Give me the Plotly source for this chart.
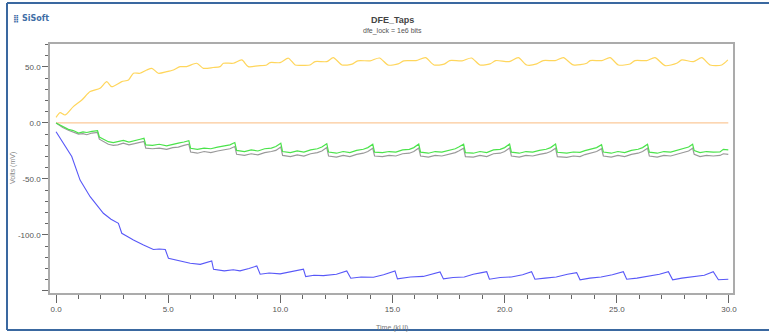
import plotly.graph_objects as go

# ---------------- data ----------------
# Yellow tap
yel_x = [0.0, 0.18, 0.4, 0.77, 1.15, 1.52, 1.96, 2.26, 2.48, 2.93, 3.23, 3.45, 3.74, 4.04, 4.27, 4.56,
         4.93, 5.23, 5.53, 5.82, 6.27, 6.57, 7.0, 7.31, 7.46, 7.9, 8.28, 8.57, 9.0, 9.39, 9.54, 9.99,
         10.36, 10.66, 11.0, 11.32, 11.55, 12.07, 12.36, 12.75, 13.2, 13.45, 14.0, 14.42, 14.8, 15.25,
         15.5, 16.05, 16.47, 16.85, 17.3, 17.55, 18.1, 18.52, 18.9, 19.35, 19.6, 20.2, 20.61, 20.98,
         21.43, 21.72, 22.25, 22.62, 23.06, 23.66, 23.81, 24.33, 24.7, 25.07, 25.59, 25.81, 26.33, 26.7,
         27.15, 27.67, 27.9, 28.41, 28.79, 29.16, 29.68, 29.95]
yel_y = [5.0, 9.2, 7.1, 14.6, 20.5, 28.0, 31.0, 36.9, 32.4, 36.9, 38.4, 44.4, 44.4, 47.3, 48.8, 44.4,
         45.8, 47.3, 50.3, 50.3, 53.3, 48.8, 49.5, 50.3, 53.3, 53.3, 56.3, 50.3, 51.0, 51.8, 53.9, 53.9,
         57.8, 51.8, 51.5, 51.8, 54.8, 54.8, 58.3, 51.8, 52.5, 55.5, 55.5, 58.0, 51.8, 52.7,
         55.5, 55.7, 58.3, 51.8, 52.5, 55.7, 55.5, 58.0, 51.8, 52.7, 55.7, 54.8, 58.3, 51.8,
         52.7, 55.7, 55.7, 58.3, 51.8, 53.3, 55.7, 55.7, 58.3, 51.8, 52.7, 55.7, 55.7, 58.3,
         51.2, 53.3, 56.3, 54.8, 58.3, 51.8, 51.8, 56.3]

# Flat (orange) tap
flat_x = [0.0, 29.97]
flat_y = [0.0, 0.0]

# Green / gray taps share sample positions
tap_x = ([0.0, 0.3, 0.55, 0.77, 1.0, 1.2, 1.37, 1.6, 1.85]
         + [1.93, 2.15, 2.33, 2.55, 2.75, 3.0, 3.25, 3.5, 3.75, 3.92]
         + [4.0, 4.3, 4.6, 4.93, 5.2, 5.45, 5.7, 5.92]
         + [6.0, 6.3, 6.6, 6.9, 7.2, 7.5, 7.75, 7.97]
         + [8.05, 8.4, 8.7, 9.0, 9.3, 9.6, 9.8, 10.02]
         + [10.1, 10.45, 10.75, 11.05, 11.35, 11.65, 11.85, 12.07]
         + [12.15, 12.5, 12.8, 13.1, 13.4, 13.7, 13.9, 14.12]
         + [14.2, 14.55, 14.85, 15.15, 15.45, 15.75, 15.95, 16.17]
         + [16.25, 16.6, 16.9, 17.2, 17.5, 17.8, 17.95, 18.17]
         + [18.25, 18.6, 18.9, 19.2, 19.5, 19.8, 20.0, 20.22]
         + [20.3, 20.65, 20.95, 21.25, 21.55, 21.85, 22.05, 22.27]
         + [22.35, 22.77, 23.06, 23.36, 23.58, 23.88, 24.1, 24.32]
         + [24.4, 24.75, 25.05, 25.35, 25.65, 25.95, 26.15, 26.37]
         + [26.45, 26.8, 27.1, 27.4, 27.7, 28.0, 28.2, 28.38]
         + [28.45, 28.71, 29.0, 29.3, 29.6, 29.75, 29.97])
green_y = ([0.0, -3.5, -5.7, -6.8, -9.0, -8.0, -8.5, -7.5, -6.8]
           + [-12.5, -14.5, -16.7, -17.6, -16.7, -15.5, -17.0, -15.5, -14.5, -13.7]
           + [-19.6, -20.0, -19.0, -20.5, -19.0, -18.0, -17.0, -15.8]
           + [-22.6, -23.5, -22.5, -23.0, -21.5, -20.5, -19.5, -17.5]
           + [-24.5, -25.5, -24.0, -25.0, -23.0, -22.5, -21.0, -18.0]
           + [-25.5, -26.5, -25.0, -26.0, -24.0, -23.0, -21.5, -18.5]
           + [-26.0, -27.0, -25.5, -26.5, -24.5, -23.5, -22.0, -19.0]
           + [-26.0, -26.5, -25.5, -26.0, -24.0, -23.5, -22.0, -18.8]
           + [-26.0, -27.0, -25.5, -26.0, -24.5, -23.0, -21.5, -19.0]
           + [-26.5, -27.0, -25.5, -26.5, -24.0, -23.5, -22.0, -18.8]
           + [-26.0, -27.0, -25.5, -26.0, -24.5, -23.5, -22.0, -18.8]
           + [-26.2, -27.0, -25.9, -26.2, -24.7, -23.2, -22.0, -19.4]
           + [-25.9, -27.0, -25.5, -26.5, -24.5, -23.5, -22.0, -19.0]
           + [-26.0, -27.0, -25.5, -26.0, -24.5, -23.0, -21.5, -19.0]
           + [-24.7, -26.5, -25.5, -26.0, -25.8, -23.5, -24.0])
gray_y = ([0.0, -4.0, -6.5, -8.0, -10.0, -9.5, -10.5, -9.0, -8.5]
          + [-14.5, -17.0, -19.0, -20.0, -19.5, -18.0, -19.5, -18.5, -17.0, -16.5]
          + [-22.5, -23.0, -22.5, -23.5, -22.0, -21.5, -20.0, -19.0]
          + [-26.0, -27.0, -25.5, -26.5, -25.0, -24.0, -23.0, -21.0]
          + [-28.0, -29.0, -27.5, -28.5, -26.5, -25.5, -24.5, -21.5]
          + [-29.0, -30.0, -28.5, -29.5, -27.5, -26.5, -25.0, -22.0]
          + [-29.5, -30.5, -29.0, -30.0, -28.0, -27.0, -25.5, -22.5]
          + [-29.5, -30.0, -29.0, -29.5, -27.5, -27.0, -25.5, -22.3]
          + [-29.5, -30.5, -29.0, -29.5, -28.0, -26.5, -25.0, -22.5]
          + [-30.0, -30.5, -29.0, -30.0, -27.5, -27.0, -25.5, -22.3]
          + [-29.5, -30.5, -29.0, -29.5, -28.0, -27.0, -25.5, -22.6]
          + [-30.0, -30.7, -29.5, -30.0, -28.2, -26.8, -25.5, -23.0]
          + [-29.5, -30.5, -29.0, -30.0, -28.0, -27.0, -25.5, -22.5]
          + [-29.5, -30.5, -29.0, -29.5, -28.0, -26.5, -25.0, -22.5]
          + [-28.0, -30.0, -29.0, -29.5, -29.0, -27.5, -28.0])

# Blue tap
blue_x = [0.0, 0.3, 0.7, 1.07, 1.52, 2.11, 2.45, 2.78, 2.93, 3.2, 3.45, 3.9, 4.34, 4.6, 4.87, 5.01,
          5.5, 5.98, 6.43, 6.94, 7.02, 7.5, 7.9, 8.2, 8.6, 8.95, 9.1, 9.5, 9.99, 10.5, 11.03, 11.13,
          11.5, 11.92, 12.5, 12.96, 13.14, 13.6, 14.15, 14.6, 15.11, 15.22, 15.8, 16.37, 16.8, 17.12,
          17.27, 17.7, 18.2, 18.6, 18.98, 19.2, 19.32, 19.8, 20.3, 20.8, 21.2, 21.35, 21.8, 22.3, 22.8,
          23.21, 23.36, 23.8, 24.3, 24.8, 25.29, 25.44, 25.9, 26.4, 26.9, 27.3, 27.49, 27.9, 28.4, 28.9,
          29.3, 29.53, 29.97]
blue_y = [-7.8, -17.0, -30.0, -51.0, -65.8, -80.6, -86.0, -89.6, -98.5, -101.5, -104.5, -109.0, -113.0,
          -112.5, -113.0, -120.8, -123.0, -125.3, -126.2, -123.2, -130.6, -132.0, -131.0, -132.0, -130.0,
          -127.7, -135.0, -134.0, -134.7, -133.0, -130.6, -137.2, -136.0, -136.3, -135.0, -132.1, -138.6,
          -137.5, -137.8, -135.5, -132.1, -139.2, -137.5, -137.0, -135.0, -133.0, -139.2, -138.0, -137.5,
          -135.0, -133.6, -132.8, -139.5, -138.0, -137.5, -135.5, -132.8, -139.5, -138.5, -137.5, -135.0,
          -133.6, -140.0, -138.5, -137.5, -135.5, -132.8, -139.5, -138.5, -137.0, -135.0, -132.8, -140.0,
          -138.5, -137.5, -136.0, -132.8, -140.0, -139.5]

x_ticks = [0, 5, 10, 15, 20, 25, 30]
x_ticktext = ["0.0", "5.0", "10.0", "15.0", "20.0", "25.0", "30.0"]
y_ticks = [-150, -100, -50, 0, 50]
y_ticktext = ["", "-100.0", "-50.0", "0.0", "50.0"]

# ---------------- figure ----------------
fig = go.Figure()
fig.add_trace(go.Scatter(x=yel_x, y=yel_y, mode="lines",
                         line=dict(color="#FFD65C", width=1.2, shape="spline", smoothing=0.7)))
fig.add_trace(go.Scatter(x=flat_x, y=flat_y, mode="lines", line=dict(color="#FBC999", width=1.2)))
fig.add_trace(go.Scatter(x=tap_x, y=gray_y, mode="lines", line=dict(color="#9a9a9a", width=1.2)))
fig.add_trace(go.Scatter(x=tap_x, y=green_y, mode="lines", line=dict(color="#4BE34B", width=1.2)))
fig.add_trace(go.Scatter(x=blue_x, y=blue_y, mode="lines", line=dict(color="#5858F8", width=1.1)))

L, R, T, B = 50, 733, 44, 293
W, H = 769, 335
pw, ph = R - L, B - T


def px(xp):
    return (xp - L) / pw


def py(yp):
    return (B - yp) / ph


fig.update_layout(
    width=W, height=H,
    margin=dict(l=L, r=W - R, t=T, b=H - B, pad=0),
    paper_bgcolor="white", plot_bgcolor="white",
    showlegend=False,
    font=dict(family="Liberation Sans, Arial, sans-serif", size=8, color="#555555"),
    xaxis=dict(range=[-0.27, 30.18], tickvals=x_ticks, ticktext=x_ticktext,
               ticks="outside", ticklen=8, tickwidth=1, tickcolor="#666666",
               showgrid=False, zeroline=False, showline=True, linecolor="#ababab",
               linewidth=1.5, mirror=True, tickfont=dict(size=8, color="#555555"),
               minor=dict(dtick=1, tick0=0, ticks="outside", ticklen=4, tickcolor="#666666",
                          tickwidth=1, showgrid=False)),
    yaxis=dict(range=[-151.8, 70.5], tickvals=y_ticks, ticktext=y_ticktext,
               ticks="outside", ticklen=6, tickwidth=1, tickcolor="#666666",
               showgrid=False, zeroline=False, showline=True, linecolor="#ababab",
               linewidth=1.5, mirror=True, tickfont=dict(size=8, color="#555555"),
               minor=dict(dtick=10, tick0=0, ticks="outside", ticklen=3, tickcolor="#666666",
                          tickwidth=1, showgrid=False)),
)

ann = [
    dict(text="<b>DFE_Taps</b>", x=px(392), y=py(20), font=dict(size=9, color="#444444"),
         xanchor="center", yanchor="middle"),
    dict(text="dfe_lock = 1e6 bits", x=px(392), y=py(31), font=dict(size=7, color="#555555"),
         xanchor="center", yanchor="middle"),
    dict(text="Time (kUI)", x=px(392), y=py(328), font=dict(size=7, color="#777777"),
         xanchor="center", yanchor="middle"),
    dict(text="Volts (mV)", x=px(13), y=py(168), textangle=-90, font=dict(size=7, color="#888888"),
         xanchor="center", yanchor="middle"),
    dict(text="<b>⣿ SiSoft</b>", x=px(11), y=py(18), font=dict(size=8, color="#3f6ea6",
                                                            family="DejaVu Sans, Liberation Sans"),
         xanchor="left", yanchor="middle"),
]
for a in ann:
    a.update(xref="paper", yref="paper", showarrow=False)
fig.update_layout(annotations=ann)

frame = "#3a68a0"
fig.add_shape(type="line", xref="paper", yref="paper", x0=px(7), x1=px(769), y0=py(3), y1=py(3),
              line=dict(color=frame, width=2))
fig.add_shape(type="line", xref="paper", yref="paper", x0=px(7), x1=px(769), y0=py(330), y1=py(330),
              line=dict(color=frame, width=2))
fig.add_shape(type="line", xref="paper", yref="paper", x0=px(7), x1=px(7), y0=py(3), y1=py(330),
              line=dict(color=frame, width=2))

fig.write_html("out.html")
